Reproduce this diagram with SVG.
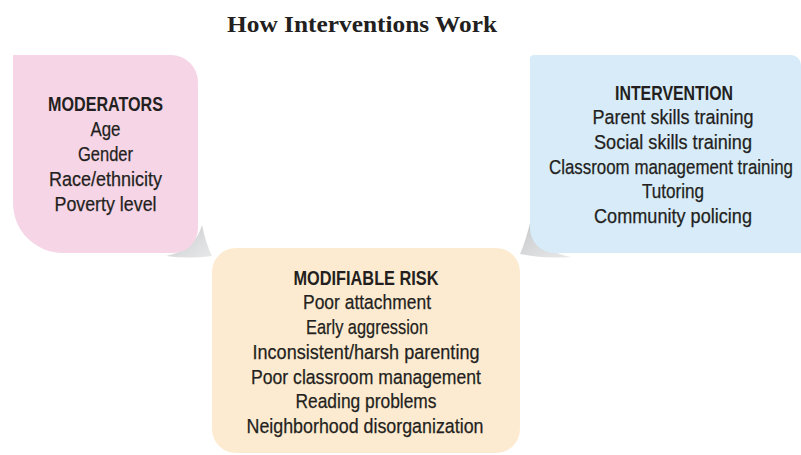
<svg xmlns="http://www.w3.org/2000/svg" width="801" height="455" viewBox="0 0 801 455">
<defs>
<style>
.t{font-family:"Liberation Sans",Arial,sans-serif;font-size:20.5px;fill:#231f20;stroke:#231f20;stroke-width:0.25;text-anchor:middle}
.b{font-weight:bold;stroke-width:0}
.title{font-family:"Liberation Serif","Times New Roman",serif;font-size:23px;font-weight:bold;fill:#231f20}
</style>
<linearGradient id="g1" x1="0" y1="0" x2="1" y2="1">
<stop offset="0" stop-color="#c8c9cb"/><stop offset="1" stop-color="#e8e9ea"/>
</linearGradient>
</defs>
<rect width="801" height="455" fill="#ffffff"/>
<text class="title" x="227" y="32" textLength="270" lengthAdjust="spacingAndGlyphs">How Interventions Work</text>

<g id="connectors">
<path fill="url(#g1)" d="M202,225 Q206,244 212,256 Q190,259 166,256 Q195,250 202,225 Z"/>
<path fill="url(#g1)" d="M530,223 Q525,243 520,254 Q545,259 571,257 Q536,250 530,223 Z"/>
</g>

<g id="node-moderators">
<path d="M13,55 H171 A27,27 0 0 1 198,82 V228 A25,25 0 0 1 173,253 H63 A50,50 0 0 1 13,203 Z" fill="#f6d5e6"/>
<text class="t b" x="105.5" y="111" textLength="115" lengthAdjust="spacingAndGlyphs">MODERATORS</text>
<text class="t" x="105.5" y="136" textLength="30" lengthAdjust="spacingAndGlyphs">Age</text>
<text class="t" x="105.5" y="161" textLength="55" lengthAdjust="spacingAndGlyphs">Gender</text>
<text class="t" x="105.5" y="186" textLength="113" lengthAdjust="spacingAndGlyphs">Race/ethnicity</text>
<text class="t" x="105.5" y="211" textLength="102" lengthAdjust="spacingAndGlyphs">Poverty level</text>
</g>

<g id="node-intervention">
<path d="M534,55 H791 A10,10 0 0 1 801,65 V253 H555 A25,25 0 0 1 530,228 V59 A4,4 0 0 1 534,55 Z" fill="#d7ebf8"/>
<text class="t b" x="674" y="100" textLength="118" lengthAdjust="spacingAndGlyphs">INTERVENTION</text>
<text class="t" x="673" y="124" textLength="161" lengthAdjust="spacingAndGlyphs">Parent skills training</text>
<text class="t" x="673" y="149" textLength="158" lengthAdjust="spacingAndGlyphs">Social skills training</text>
<text class="t" x="671" y="174" textLength="244" lengthAdjust="spacingAndGlyphs">Classroom management training</text>
<text class="t" x="673" y="198" textLength="62" lengthAdjust="spacingAndGlyphs">Tutoring</text>
<text class="t" x="673" y="223" textLength="158" lengthAdjust="spacingAndGlyphs">Community policing</text>
</g>

<g id="node-modifiable-risk">
<rect x="212" y="248" width="308" height="205" rx="24" ry="24" fill="#fdebd1"/>
<text class="t b" x="366" y="285" textLength="145" lengthAdjust="spacingAndGlyphs">MODIFIABLE RISK</text>
<text class="t" x="367" y="309" textLength="128" lengthAdjust="spacingAndGlyphs">Poor attachment</text>
<text class="t" x="367" y="334" textLength="122" lengthAdjust="spacingAndGlyphs">Early aggression</text>
<text class="t" x="366" y="359" textLength="227" lengthAdjust="spacingAndGlyphs">Inconsistent/harsh parenting</text>
<text class="t" x="366" y="384" textLength="230" lengthAdjust="spacingAndGlyphs">Poor classroom management</text>
<text class="t" x="366" y="408" textLength="141" lengthAdjust="spacingAndGlyphs">Reading problems</text>
<text class="t" x="365" y="433" textLength="237" lengthAdjust="spacingAndGlyphs">Neighborhood disorganization</text>
</g>
</svg>
